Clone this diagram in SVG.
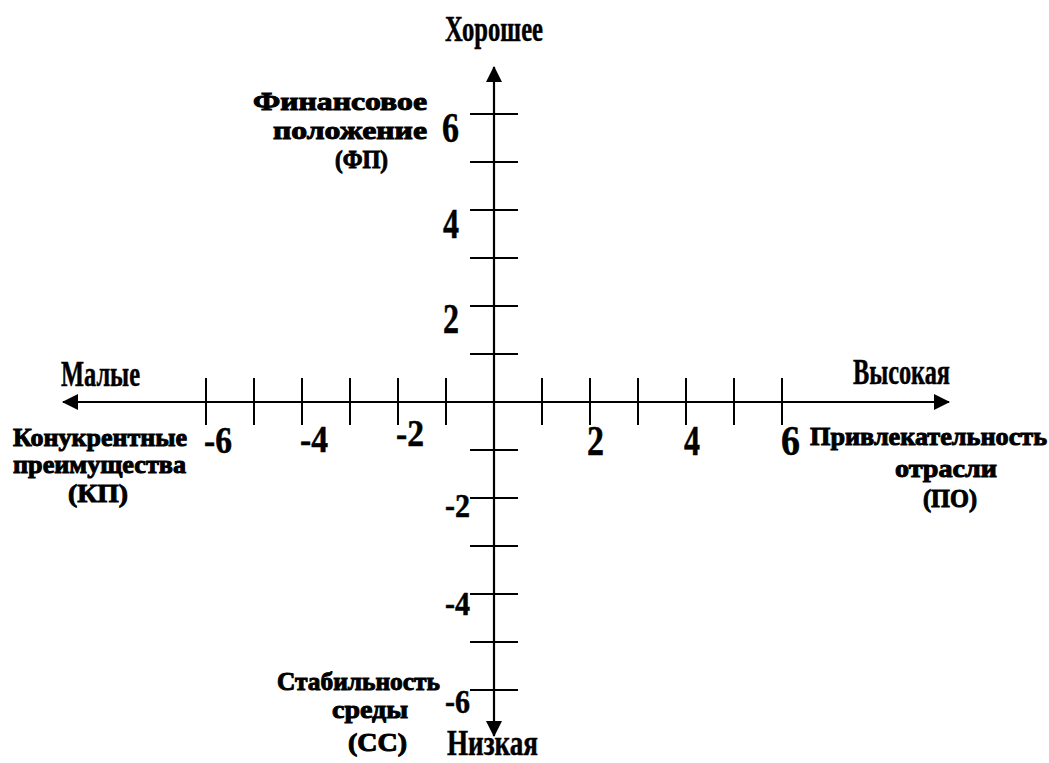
<svg xmlns="http://www.w3.org/2000/svg" width="1049" height="763" viewBox="0 0 1049 763">
<style>
  .ax{stroke:#000;stroke-width:2.2;fill:none}
  .tk{stroke:#000;stroke-width:2}
  text{font-family:"Liberation Serif","Times New Roman",serif;font-weight:bold;fill:#000;stroke:#000;stroke-width:0.5}
  .big{font-size:35px}
  .lbl{font-size:26px;stroke-width:1}
  .neg{font-size:37px}
  .pos{font-size:42px}
  .yneg{font-size:34px}
</style>
<defs>
  <marker id="arr" viewBox="0 0 16 16" refX="15" refY="8" markerWidth="16" markerHeight="16" markerUnits="userSpaceOnUse" orient="auto-start-reverse">
    <path d="M0,0 L16,8 L0,16 Z" fill="#000"/>
  </marker>
</defs>
<rect width="1049" height="763" fill="#fff"/>
<g id="connectors">
  <line id="x-axis" class="ax" x1="63" y1="402" x2="949" y2="402" marker-start="url(#arr)" marker-end="url(#arr)"/>
  <line id="y-axis" class="ax" x1="494" y1="67" x2="494" y2="736" marker-start="url(#arr)" marker-end="url(#arr)"/>
</g>
<g id="x-ticks" class="tk">
  <line x1="206" y1="378" x2="206" y2="425"/>
  <line x1="254" y1="378" x2="254" y2="425"/>
  <line x1="302" y1="378" x2="302" y2="425"/>
  <line x1="350" y1="378" x2="350" y2="425"/>
  <line x1="398" y1="378" x2="398" y2="425"/>
  <line x1="446" y1="378" x2="446" y2="425"/>
  <line x1="542" y1="378" x2="542" y2="425"/>
  <line x1="590" y1="378" x2="590" y2="425"/>
  <line x1="638" y1="378" x2="638" y2="425"/>
  <line x1="686" y1="378" x2="686" y2="425"/>
  <line x1="734" y1="378" x2="734" y2="425"/>
  <line x1="782" y1="378" x2="782" y2="425"/>
</g>
<g id="y-ticks" class="tk">
  <line x1="470" y1="114" x2="518" y2="114"/>
  <line x1="470" y1="162" x2="518" y2="162"/>
  <line x1="470" y1="210" x2="518" y2="210"/>
  <line x1="470" y1="258" x2="518" y2="258"/>
  <line x1="470" y1="306" x2="518" y2="306"/>
  <line x1="470" y1="354" x2="518" y2="354"/>
  <line x1="470" y1="450" x2="518" y2="450"/>
  <line x1="470" y1="498" x2="518" y2="498"/>
  <line x1="470" y1="546" x2="518" y2="546"/>
  <line x1="470" y1="594" x2="518" y2="594"/>
  <line x1="470" y1="642" x2="518" y2="642"/>
  <line x1="470" y1="690" x2="518" y2="690"/>
</g>
<g id="x-numbers">
  <text class="neg" x="204" y="453" textLength="28" lengthAdjust="spacingAndGlyphs">-6</text>
  <text class="neg" x="300" y="452" textLength="28" lengthAdjust="spacingAndGlyphs">-4</text>
  <text class="neg" x="396" y="446" textLength="28" lengthAdjust="spacingAndGlyphs">-2</text>
  <text class="pos" x="587" y="455" textLength="17" lengthAdjust="spacingAndGlyphs">2</text>
  <text class="pos" x="684" y="455" textLength="16" lengthAdjust="spacingAndGlyphs">4</text>
  <text class="pos" x="781" y="455" textLength="19" lengthAdjust="spacingAndGlyphs">6</text>
</g>
<g id="y-numbers">
  <text class="pos" x="442" y="142" textLength="17" lengthAdjust="spacingAndGlyphs">6</text>
  <text class="pos" x="443" y="238" textLength="16" lengthAdjust="spacingAndGlyphs">4</text>
  <text class="pos" x="443" y="333" textLength="16" lengthAdjust="spacingAndGlyphs">2</text>
  <text class="yneg" x="445" y="517" textLength="25" lengthAdjust="spacingAndGlyphs">-2</text>
  <text class="yneg" x="445" y="615" textLength="25" lengthAdjust="spacingAndGlyphs">-4</text>
  <text class="yneg" x="445" y="713" textLength="25" lengthAdjust="spacingAndGlyphs">-6</text>
</g>
<g id="label-top">
  <text class="big" x="445" y="41" textLength="98" lengthAdjust="spacingAndGlyphs">Хорошее</text>
</g>
<g id="label-left">
  <text class="big" x="61" y="386" textLength="79" lengthAdjust="spacingAndGlyphs">Малые</text>
</g>
<g id="label-right">
  <text class="big" x="853" y="384" textLength="97" lengthAdjust="spacingAndGlyphs">Высокая</text>
</g>
<g id="label-bottom">
  <text class="big" x="447" y="755" font-size="32" textLength="91" lengthAdjust="spacingAndGlyphs">Низкая</text>
</g>
<g id="node-fp">
  <text class="lbl" x="253" y="110" textLength="174" lengthAdjust="spacingAndGlyphs">Финансовое</text>
  <text class="lbl" x="273" y="139" textLength="154" lengthAdjust="spacingAndGlyphs">положение</text>
  <text class="lbl" x="335" y="168" textLength="53" lengthAdjust="spacingAndGlyphs">(ФП)</text>
</g>
<g id="node-kp">
  <text class="lbl" x="13" y="446" textLength="174" lengthAdjust="spacingAndGlyphs">Конукрентные</text>
  <text class="lbl" x="13" y="473" textLength="173" lengthAdjust="spacingAndGlyphs">преимущества</text>
  <text class="lbl" x="68" y="502" textLength="60" lengthAdjust="spacingAndGlyphs">(КП)</text>
</g>
<g id="node-po">
  <text class="lbl" x="810" y="445" textLength="237" lengthAdjust="spacingAndGlyphs">Привлекательность</text>
  <text class="lbl" x="895" y="477" textLength="102" lengthAdjust="spacingAndGlyphs">отрасли</text>
  <text class="lbl" x="923" y="507" textLength="54" lengthAdjust="spacingAndGlyphs">(ПО)</text>
</g>
<g id="node-ss">
  <text class="lbl" x="277" y="690" textLength="163" lengthAdjust="spacingAndGlyphs">Стабильность</text>
  <text class="lbl" x="332" y="718" textLength="76" lengthAdjust="spacingAndGlyphs">среды</text>
  <text class="lbl" x="348" y="751" textLength="59" lengthAdjust="spacingAndGlyphs">(СС)</text>
</g>
</svg>
